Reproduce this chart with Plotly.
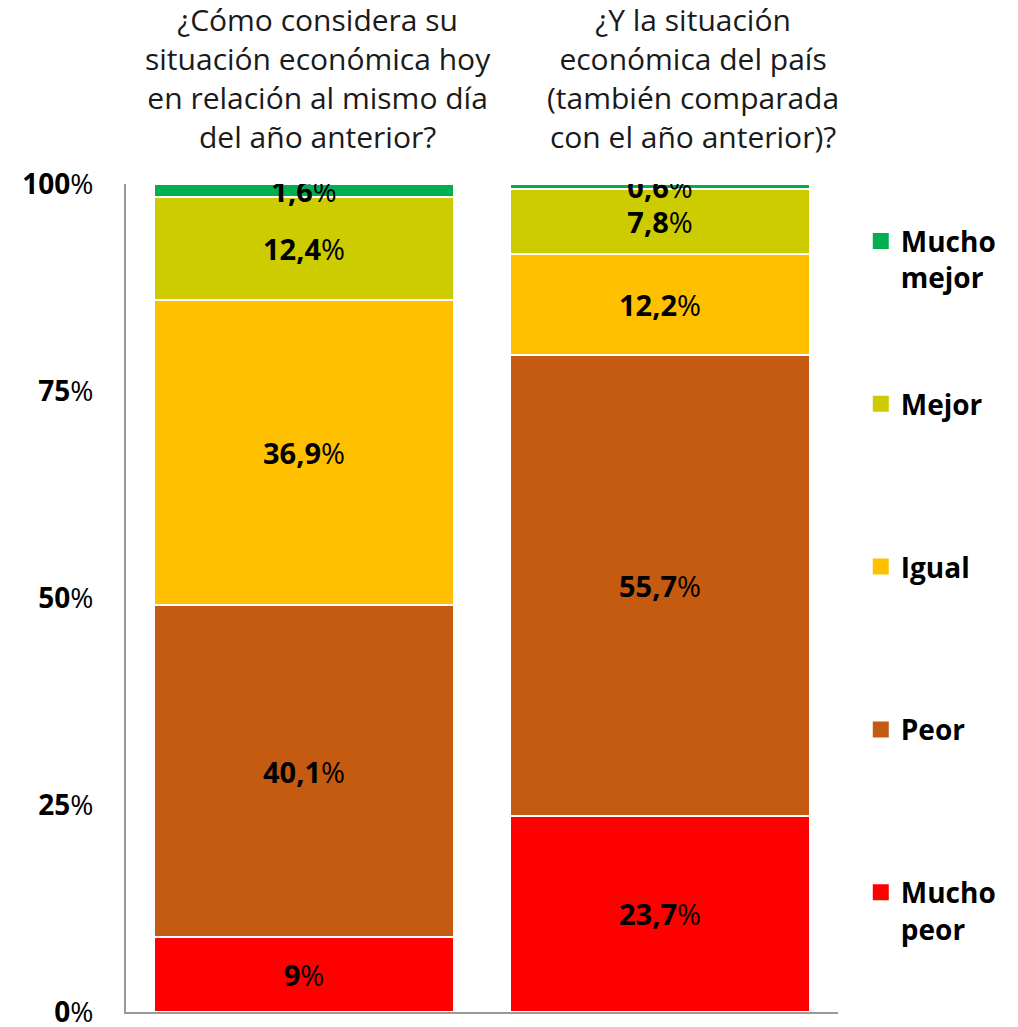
import plotly.graph_objects as go

categories = [
    "¿Cómo considera su<br>situación económica hoy<br>en relación al mismo día<br>del año anterior?",
    "¿Y la situación<br>económica del país<br>(también comparada<br>con el año anterior)?",
]
series_names = ["Mucho<br>peor", "Peor", "Igual", "Mejor", "Mucho<br>mejor"]
series_colors = ["#ff0000", "#c55a11", "#ffc000", "#cccc00", "#00b050"]
mucho_peor = [9.0, 23.7]
peor = [40.1, 55.7]
igual = [36.9, 12.2]
mejor = [12.4, 7.8]
mucho_mejor = [1.6, 0.6]
tick_vals = [0, 25, 50, 75, 100]
tick_text = ["<b>0</b>%", "<b>25</b>%", "<b>50</b>%", "<b>75</b>%", "<b>100</b>%"]

FONT = "Open Sans"
series_values = [mucho_peor, peor, igual, mejor, mucho_mejor]
title_xshift = [14, 33]


def fmt(v):
    s = f"{v:.1f}".rstrip("0").rstrip(".").replace(".", ",")
    return f"<b>{s}</b>%"


fig = go.Figure()
for name, color, vals in zip(series_names, series_colors, series_values):
    fig.add_trace(
        go.Bar(
            x=[0, 1],
            y=vals,
            name=name,
            showlegend=False,
            marker=dict(color=color, line=dict(color="white", width=2)),
            text=[fmt(v) for v in vals],
            textposition="inside",
            insidetextanchor="middle",
            constraintext="none",
            textangle=0,
            textfont=dict(family=FONT, size=29, color="black"),
            hoverinfo="skip",
        )
    )

# legend entries (top to bottom) with larger square swatches
for name, color in reversed(list(zip(series_names, series_colors))):
    legend_name = name if "<br>" in name else name + "<br> "
    fig.add_trace(
        go.Scatter(
            x=[None],
            y=[None],
            mode="markers",
            name=legend_name,
            legendgroup=name,
            marker=dict(symbol="square", size=17, color=color),
            hoverinfo="skip",
        )
    )

for i, cat in enumerate(categories):
    fig.add_annotation(
        x=i,
        y=1,
        xref="x",
        yref="paper",
        yanchor="bottom",
        xshift=title_xshift[i],
        yshift=25,
        text=cat,
        showarrow=False,
        align="center",
        font=dict(family=FONT, size=30, color="#1a1a1a"),
    )

fig.update_layout(
    width=1018,
    height=1027,
    barmode="stack",
    bargap=0.157,
    plot_bgcolor="white",
    paper_bgcolor="white",
    margin=dict(l=126, r=180, t=184, b=15),
    xaxis=dict(
        range=[-0.5, 1.5],
        showticklabels=False,
        showline=True,
        linecolor="#999999",
        linewidth=2,
        showgrid=False,
        zeroline=False,
        fixedrange=True,
        automargin=False,
    ),
    yaxis=dict(
        range=[0, 100],
        tickvals=tick_vals,
        ticktext=tick_text,
        tickfont=dict(family=FONT, size=28, color="black"),
        ticks="outside",
        ticklen=25,
        tickcolor="rgba(0,0,0,0)",
        ticklabeloverflow="allow",
        automargin=False,
        showline=True,
        linecolor="#999999",
        linewidth=2,
        showgrid=False,
        zeroline=False,
    ),
    legend=dict(
        x=1.032,
        y=0.961,
        xanchor="left",
        yanchor="top",
        traceorder="grouped",
        tracegroupgap=87,
        valign="top",
        itemwidth=30,
        itemsizing="trace",
        font=dict(family=FONT, size=28, color="black", weight="bold"),
        bgcolor="rgba(0,0,0,0)",
    ),
)

fig.write_html(
    "out.html",
    config={"displayModeBar": False},
    post_script="document.body.style.margin='0';",
)
